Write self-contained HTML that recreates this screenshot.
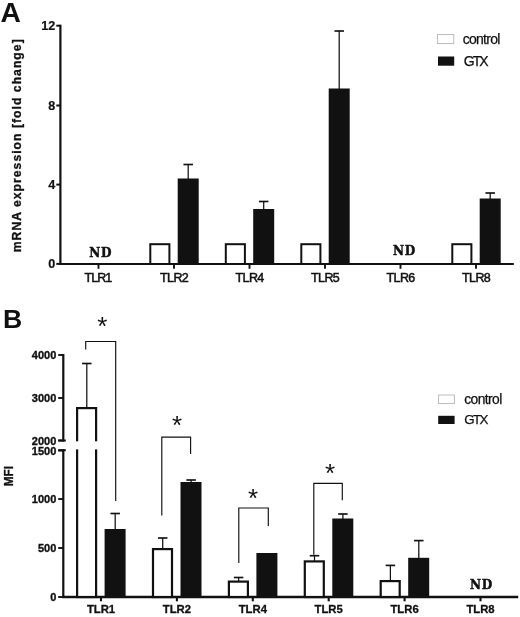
<!DOCTYPE html><html><head><meta charset="utf-8"><title>Figure</title>
<style>html,body{margin:0;padding:0;background:#fff}svg{display:block;filter:blur(0.3px)}</style></head><body>
<svg width="520" height="617" viewBox="0 0 520 617">
<rect width="520" height="617" fill="#fff"/>
<text x="0.6" y="22.4" font-family='"Liberation Sans", Arial, sans-serif' font-size="28.2" font-weight="bold" text-anchor="start" fill="#111">A</text>
<path d="M60.4 24.7V264" stroke="#111" stroke-width="2.2" fill="none"/>
<path d="M59.3 264H513.8" stroke="#111" stroke-width="2" fill="none"/>
<path d="M56.3 25.7H60.4" stroke="#111" stroke-width="2"/>
<text x="55.3" y="29.9" font-family='"Liberation Sans", Arial, sans-serif' font-size="12.6" font-weight="bold" text-anchor="end" fill="#111" stroke="#111" stroke-width="0.2">12</text>
<path d="M56.3 105.5H60.4" stroke="#111" stroke-width="2"/>
<text x="55.3" y="109.7" font-family='"Liberation Sans", Arial, sans-serif' font-size="12.6" font-weight="bold" text-anchor="end" fill="#111" stroke="#111" stroke-width="0.2">8</text>
<path d="M56.3 184.6H60.4" stroke="#111" stroke-width="2"/>
<text x="55.3" y="188.79999999999998" font-family='"Liberation Sans", Arial, sans-serif' font-size="12.6" font-weight="bold" text-anchor="end" fill="#111" stroke="#111" stroke-width="0.2">4</text>
<path d="M56.3 263.9H60.4" stroke="#111" stroke-width="2"/>
<text x="55.3" y="268.09999999999997" font-family='"Liberation Sans", Arial, sans-serif' font-size="12.6" font-weight="bold" text-anchor="end" fill="#111" stroke="#111" stroke-width="0.2">0</text>
<path d="M98.5 264V268.8" stroke="#111" stroke-width="1.9"/>
<text x="84.6" y="281.6" font-family='"Liberation Sans", Arial, sans-serif' font-size="12.5" font-weight="normal" text-anchor="start" fill="#111" textLength="27.6" lengthAdjust="spacing" stroke="#111" stroke-width="0.5">TLR1</text>
<path d="M174 264V268.8" stroke="#111" stroke-width="1.9"/>
<text x="160.1" y="281.6" font-family='"Liberation Sans", Arial, sans-serif' font-size="12.5" font-weight="normal" text-anchor="start" fill="#111" textLength="28.6" lengthAdjust="spacing" stroke="#111" stroke-width="0.5">TLR2</text>
<path d="M249.5 264V268.8" stroke="#111" stroke-width="1.9"/>
<text x="235.6" y="281.6" font-family='"Liberation Sans", Arial, sans-serif' font-size="12.5" font-weight="normal" text-anchor="start" fill="#111" textLength="28.6" lengthAdjust="spacing" stroke="#111" stroke-width="0.5">TLR4</text>
<path d="M325 264V268.8" stroke="#111" stroke-width="1.9"/>
<text x="311.1" y="281.6" font-family='"Liberation Sans", Arial, sans-serif' font-size="12.5" font-weight="normal" text-anchor="start" fill="#111" textLength="28.6" lengthAdjust="spacing" stroke="#111" stroke-width="0.5">TLR5</text>
<path d="M400.5 264V268.8" stroke="#111" stroke-width="1.9"/>
<text x="386.6" y="281.6" font-family='"Liberation Sans", Arial, sans-serif' font-size="12.5" font-weight="normal" text-anchor="start" fill="#111" textLength="28.6" lengthAdjust="spacing" stroke="#111" stroke-width="0.5">TLR6</text>
<path d="M476 264V268.8" stroke="#111" stroke-width="1.9"/>
<text x="462.1" y="281.6" font-family='"Liberation Sans", Arial, sans-serif' font-size="12.5" font-weight="normal" text-anchor="start" fill="#111" textLength="28.6" lengthAdjust="spacing" stroke="#111" stroke-width="0.5">TLR8</text>
<rect x="150.3" y="244.2" width="19.099999999999994" height="19.80000000000001" fill="#fff" stroke="#111" stroke-width="2"/>
<path d="M188.2 179.5V164.5" stroke="#111" stroke-width="1.25" fill="none"/><path d="M183.45 164.5H192.95" stroke="#111" stroke-width="1.65" fill="none"/>
<rect x="177.7" y="178.5" width="21.0" height="85.5" fill="#111"/>
<rect x="225.8" y="244.2" width="19.099999999999994" height="19.80000000000001" fill="#fff" stroke="#111" stroke-width="2"/>
<path d="M263.7 210V201.5" stroke="#111" stroke-width="1.25" fill="none"/><path d="M258.95 201.5H268.45" stroke="#111" stroke-width="1.65" fill="none"/>
<rect x="253.2" y="209" width="21.0" height="55" fill="#111"/>
<rect x="301.3" y="244.2" width="19.099999999999966" height="19.80000000000001" fill="#fff" stroke="#111" stroke-width="2"/>
<path d="M339.2 89.5V31" stroke="#111" stroke-width="1.25" fill="none"/><path d="M334.45 31H343.95" stroke="#111" stroke-width="1.65" fill="none"/>
<rect x="328.7" y="88.5" width="21.0" height="175.5" fill="#111"/>
<rect x="452.3" y="244.2" width="19.099999999999966" height="19.80000000000001" fill="#fff" stroke="#111" stroke-width="2"/>
<path d="M490.2 199.5V193" stroke="#111" stroke-width="1.25" fill="none"/><path d="M485.45 193H494.95" stroke="#111" stroke-width="1.65" fill="none"/>
<rect x="479.7" y="198.5" width="21.0" height="65.5" fill="#111"/>
<text x="89.3" y="256.6" font-family='"DejaVu Serif", "Liberation Serif", serif' font-size="12.1" font-weight="bold" text-anchor="start" fill="#111" stroke="#111" stroke-width="0.45" letter-spacing="0.6">ND</text>
<text x="393" y="255.4" font-family='"DejaVu Serif", "Liberation Serif", serif' font-size="12.1" font-weight="bold" text-anchor="start" fill="#111" stroke="#111" stroke-width="0.45" letter-spacing="0.6">ND</text>
<g transform="translate(21.1 145.8) rotate(-90)">
<text x="0" y="0" font-family='"Liberation Sans", Arial, sans-serif' font-size="12.2" font-weight="bold" text-anchor="middle" fill="#111" textLength="213" lengthAdjust="spacing" stroke="#111" stroke-width="0.3">mRNA expression [fold change]</text>
</g>
<rect x="437.4" y="34.6" width="16.4" height="9" fill="#fff" stroke="#b4b4b4" stroke-width="0.9"/>
<rect x="438" y="56.5" width="16.2" height="9.2" fill="#111"/>
<text x="462.8" y="44" font-family='"Liberation Sans", Arial, sans-serif' font-size="14" font-weight="normal" text-anchor="start" fill="#111" textLength="37.5" lengthAdjust="spacing" stroke="#111" stroke-width="0.25">control</text>
<text x="463.7" y="65.8" font-family='"Liberation Sans", Arial, sans-serif' font-size="14" font-weight="normal" text-anchor="start" fill="#111" textLength="25" lengthAdjust="spacing" stroke="#111" stroke-width="0.25">GTX</text>
<text x="2.9" y="327.6" font-family='"Liberation Sans", Arial, sans-serif' font-size="26.6" font-weight="bold" text-anchor="start" fill="#111">B</text>
<path d="M63.3 354V441.4M63.3 449.3V597" stroke="#111" stroke-width="2.2" fill="none"/>
<path d="M58.2 440.45H65.8M58.2 450.25H65.8" stroke="#111" stroke-width="1.9" fill="none"/>
<path d="M62.2 597.05H518.2" stroke="#111" stroke-width="2.4" fill="none"/>
<path d="M58.2 355H63.3" stroke="#111" stroke-width="1.9"/>
<text x="56.3" y="359" font-family='"Liberation Sans", Arial, sans-serif' font-size="11" font-weight="bold" text-anchor="end" fill="#111" stroke="#111" stroke-width="0.35">4000</text>
<path d="M58.2 398H63.3" stroke="#111" stroke-width="1.9"/>
<text x="56.3" y="402" font-family='"Liberation Sans", Arial, sans-serif' font-size="11" font-weight="bold" text-anchor="end" fill="#111" stroke="#111" stroke-width="0.35">3000</text>
<path d="M58.2 440.5H63.3" stroke="#111" stroke-width="1.9"/>
<text x="56.3" y="444.5" font-family='"Liberation Sans", Arial, sans-serif' font-size="11" font-weight="bold" text-anchor="end" fill="#111" stroke="#111" stroke-width="0.35">2000</text>
<path d="M58.2 450.5H63.3" stroke="#111" stroke-width="1.9"/>
<text x="56.3" y="454.5" font-family='"Liberation Sans", Arial, sans-serif' font-size="11" font-weight="bold" text-anchor="end" fill="#111" stroke="#111" stroke-width="0.35">1500</text>
<path d="M58.2 499H63.3" stroke="#111" stroke-width="1.9"/>
<text x="56.3" y="503" font-family='"Liberation Sans", Arial, sans-serif' font-size="11" font-weight="bold" text-anchor="end" fill="#111" stroke="#111" stroke-width="0.35">1000</text>
<path d="M58.2 548H63.3" stroke="#111" stroke-width="1.9"/>
<text x="56.3" y="552" font-family='"Liberation Sans", Arial, sans-serif' font-size="11" font-weight="bold" text-anchor="end" fill="#111" stroke="#111" stroke-width="0.35">500</text>
<path d="M58.2 597H63.3" stroke="#111" stroke-width="1.9"/>
<text x="56.3" y="601" font-family='"Liberation Sans", Arial, sans-serif' font-size="11" font-weight="bold" text-anchor="end" fill="#111" stroke="#111" stroke-width="0.35">0</text>
<path d="M101 597V601.3" stroke="#111" stroke-width="2.1"/>
<text x="101" y="612.9" font-family='"Liberation Sans", Arial, sans-serif' font-size="11.3" font-weight="bold" text-anchor="middle" fill="#111" stroke="#111" stroke-width="0.3">TLR1</text>
<path d="M176.9 597V601.3" stroke="#111" stroke-width="2.1"/>
<text x="176.9" y="612.9" font-family='"Liberation Sans", Arial, sans-serif' font-size="11.3" font-weight="bold" text-anchor="middle" fill="#111" stroke="#111" stroke-width="0.3">TLR2</text>
<path d="M252.8 597V601.3" stroke="#111" stroke-width="2.1"/>
<text x="252.8" y="612.9" font-family='"Liberation Sans", Arial, sans-serif' font-size="11.3" font-weight="bold" text-anchor="middle" fill="#111" stroke="#111" stroke-width="0.3">TLR4</text>
<path d="M328.7 597V601.3" stroke="#111" stroke-width="2.1"/>
<text x="328.7" y="612.9" font-family='"Liberation Sans", Arial, sans-serif' font-size="11.3" font-weight="bold" text-anchor="middle" fill="#111" stroke="#111" stroke-width="0.3">TLR5</text>
<path d="M404.6 597V601.3" stroke="#111" stroke-width="2.1"/>
<text x="404.6" y="612.9" font-family='"Liberation Sans", Arial, sans-serif' font-size="11.3" font-weight="bold" text-anchor="middle" fill="#111" stroke="#111" stroke-width="0.3">TLR6</text>
<path d="M480.5 597V601.3" stroke="#111" stroke-width="2.1"/>
<text x="480.5" y="612.9" font-family='"Liberation Sans", Arial, sans-serif' font-size="11.3" font-weight="bold" text-anchor="middle" fill="#111" stroke="#111" stroke-width="0.3">TLR8</text>
<path d="M86.8 408V363.5" stroke="#111" stroke-width="1.25" fill="none"/><path d="M82.05 363.5H91.55" stroke="#111" stroke-width="1.65" fill="none"/>
<rect x="77.1" y="408.1" width="19.000000000000004" height="188.9" fill="#fff" stroke="#111" stroke-width="2.2"/>
<path d="M115.2 530V513.5" stroke="#111" stroke-width="1.25" fill="none"/><path d="M110.45 513.5H119.95" stroke="#111" stroke-width="1.65" fill="none"/>
<rect x="104.6" y="529" width="21.0" height="68" fill="#111"/>
<path d="M162.70000000000002 549V538" stroke="#111" stroke-width="1.25" fill="none"/><path d="M157.95000000000002 538H167.45000000000002" stroke="#111" stroke-width="1.65" fill="none"/>
<rect x="153.0" y="549.1" width="18.99999999999999" height="47.9" fill="#fff" stroke="#111" stroke-width="2.2"/>
<path d="M191.1 483V480" stroke="#111" stroke-width="1.25" fill="none"/><path d="M186.35 480H195.85" stroke="#111" stroke-width="1.65" fill="none"/>
<rect x="180.5" y="482" width="21.0" height="115" fill="#111"/>
<path d="M238.60000000000002 581.5V577.5" stroke="#111" stroke-width="1.25" fill="none"/><path d="M233.85000000000002 577.5H243.35000000000002" stroke="#111" stroke-width="1.65" fill="none"/>
<rect x="228.9" y="581.6" width="18.99999999999999" height="15.4" fill="#fff" stroke="#111" stroke-width="2.2"/>
<rect x="256.40000000000003" y="553" width="21.0" height="44" fill="#111"/>
<path d="M314.5 561.3V555.7" stroke="#111" stroke-width="1.25" fill="none"/><path d="M309.75 555.7H319.25" stroke="#111" stroke-width="1.65" fill="none"/>
<rect x="304.8" y="561.4" width="18.99999999999999" height="35.600000000000044" fill="#fff" stroke="#111" stroke-width="2.2"/>
<path d="M342.9 519.5V514" stroke="#111" stroke-width="1.25" fill="none"/><path d="M338.15 514H347.65" stroke="#111" stroke-width="1.65" fill="none"/>
<rect x="332.3" y="518.5" width="21.0" height="78.5" fill="#111"/>
<path d="M390.40000000000003 581V565.4" stroke="#111" stroke-width="1.25" fill="none"/><path d="M385.65000000000003 565.4H395.15000000000003" stroke="#111" stroke-width="1.65" fill="none"/>
<rect x="380.70000000000005" y="581.1" width="18.99999999999999" height="15.9" fill="#fff" stroke="#111" stroke-width="2.2"/>
<path d="M418.8 558.8V540.6" stroke="#111" stroke-width="1.25" fill="none"/><path d="M414.05 540.6H423.55" stroke="#111" stroke-width="1.65" fill="none"/>
<rect x="408.20000000000005" y="557.8" width="21.0" height="39.200000000000045" fill="#111"/>
<rect x="70" y="441.3" width="32" height="8.1" fill="#fff"/>
<path d="M85.7 349.4V341.5H115.7V501" stroke="#111" stroke-width="1.15" fill="none"/>
<path d="M161.8 515.5V437.15H190.6V454" stroke="#111" stroke-width="1.15" fill="none"/>
<path d="M238.8 563V508H268.3V525.9" stroke="#111" stroke-width="1.15" fill="none"/>
<path d="M313.8 554.7V483.3H342.3V500.2" stroke="#111" stroke-width="1.15" fill="none"/>
<text x="102.4" y="335.05" font-family='"Liberation Sans", Arial, sans-serif' font-size="26" font-weight="normal" text-anchor="middle" fill="#111">*</text>
<text x="177" y="434.25" font-family='"Liberation Sans", Arial, sans-serif' font-size="26" font-weight="normal" text-anchor="middle" fill="#111">*</text>
<text x="253" y="506.95000000000005" font-family='"Liberation Sans", Arial, sans-serif' font-size="26" font-weight="normal" text-anchor="middle" fill="#111">*</text>
<text x="330" y="481.85" font-family='"Liberation Sans", Arial, sans-serif' font-size="26" font-weight="normal" text-anchor="middle" fill="#111">*</text>
<text x="470" y="589.2" font-family='"DejaVu Serif", "Liberation Serif", serif' font-size="12.1" font-weight="bold" text-anchor="start" fill="#111" stroke="#111" stroke-width="0.45" letter-spacing="0.6">ND</text>
<g transform="translate(12.8 476.2) rotate(-90)">
<text x="0" y="0" font-family='"Liberation Sans", Arial, sans-serif' font-size="12.4" font-weight="bold" text-anchor="middle" fill="#111" textLength="20.2" lengthAdjust="spacingAndGlyphs" stroke="#111" stroke-width="0.3">MFI</text>
</g>
<rect x="438.6" y="395" width="15.8" height="8.6" fill="#fff" stroke="#b4b4b4" stroke-width="0.9"/>
<rect x="438.2" y="415.8" width="16.4" height="8.2" fill="#111"/>
<text x="464.3" y="403.7" font-family='"Liberation Sans", Arial, sans-serif' font-size="13.8" font-weight="normal" text-anchor="start" fill="#111" textLength="38" lengthAdjust="spacing" stroke="#111" stroke-width="0.25">control</text>
<text x="464.3" y="424.2" font-family='"Liberation Sans", Arial, sans-serif' font-size="13.3" font-weight="normal" text-anchor="start" fill="#111" textLength="24" lengthAdjust="spacing" stroke="#111" stroke-width="0.25">GTX</text>
</svg></body></html>
